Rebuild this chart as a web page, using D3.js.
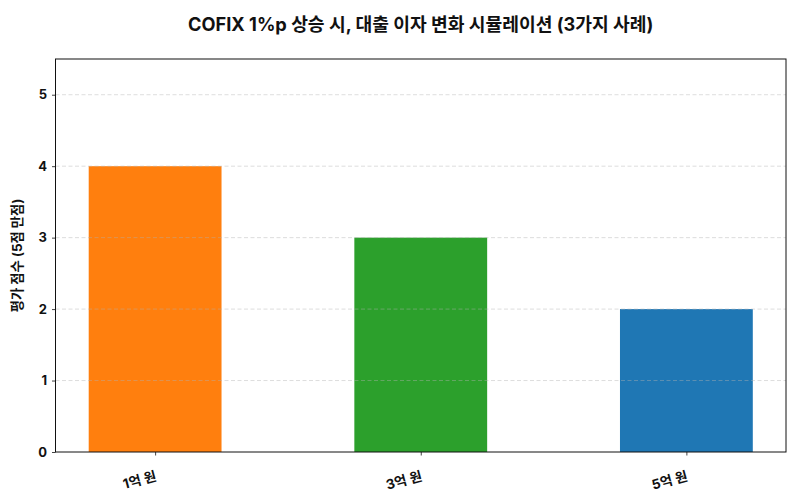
<!DOCTYPE html>
<html>
<head>
<meta charset="utf-8">
<script src="https://cdn.jsdelivr.net/npm/d3@7"></script>
<style>
  body { margin: 0; background: #fff; }
  svg text { font-family: Inter, "Noto Sans CJK KR", sans-serif; fill: #111; }
</style>
</head>
<body>
<div id="chart"></div>
<script>
// Chart values
const categories = ["1억 원", "3억 원", "5억 원"];
const scores = [4, 3, 2];
const barColors = ["#ff7f0e", "#2ca02c", "#1f77b4"];
const yTicks = [0, 1, 2, 3, 4, 5];

const W = 800, H = 500;
const margin = { top: 59, right: 14, bottom: 48, left: 55.5 };
const width = W - margin.left - margin.right;
const height = H - margin.top - margin.bottom;

const svg = d3.select("#chart").append("svg")
    .attr("width", W).attr("height", H);

const g = svg.append("g")
    .attr("transform", `translate(${margin.left},${margin.top})`);

// Scales (category index on a linear axis, like matplotlib)
const x = d3.scaleLinear().domain([-0.375, 2.375]).range([0, width]);
const y = d3.scaleLinear().domain([0, 5.5]).range([height, 0]);
const barW = x(0.5) - x(0);

// Bars
g.selectAll("rect.bar")
    .data(scores)
    .join("rect")
    .attr("class", "bar")
    .attr("x", (d, i) => x(i) - barW / 2)
    .attr("y", d => y(d))
    .attr("width", barW)
    .attr("height", d => y(0) - y(d))
    .attr("fill", (d, i) => barColors[i]);

// Grid lines (drawn over the bars)
g.append("g")
    .selectAll("line")
    .data(yTicks.filter(t => t > 0))
    .join("line")
    .attr("x1", 0).attr("x2", width)
    .attr("y1", d => y(d)).attr("y2", d => y(d))
    .attr("stroke", "#b0b0b0")
    .attr("stroke-opacity", 0.55)
    .attr("stroke-dasharray", "4,2.5")
    .attr("stroke-width", 0.8);

// Axes
const yAxis = g.append("g")
    .call(d3.axisLeft(y).tickValues(yTicks).tickSize(3.5).tickPadding(5).tickFormat(d3.format("d")));
const xAxis = g.append("g")
    .attr("transform", `translate(0,${height})`)
    .call(d3.axisBottom(x).tickValues([0, 1, 2]).tickSize(3.5).tickFormat((d) => categories[d]));

[xAxis, yAxis].forEach(a => {
    a.select(".domain").remove();
    a.selectAll(".tick line").attr("stroke", "#111").attr("stroke-width", 0.8);
    a.selectAll("text").attr("font-size", 13).attr("font-weight", 700);
});

xAxis.selectAll("text")
    .attr("font-size", 13.5)
    .attr("text-anchor", "end")
    .attr("dy", 0)
    .attr("transform", "translate(0,22) rotate(-15)");

// Frame
g.append("rect")
    .attr("width", width).attr("height", height)
    .attr("fill", "none")
    .attr("stroke", "#111")
    .attr("stroke-width", 1);

// Title
svg.append("text")
    .attr("x", margin.left + width / 2)
    .attr("y", 31)
    .attr("text-anchor", "middle")
    .attr("font-size", 18.2)
    .attr("font-weight", 700)
    .text("COFIX 1%p 상승 시, 대출 이자 변화 시뮬레이션 (3가지 사례)");

// Y label
svg.append("text")
    .attr("transform", `translate(22,${margin.top + height / 2}) rotate(-90)`)
    .attr("text-anchor", "middle")
    .attr("font-size", 13.3)
    .attr("font-weight", 700)
    .text("평가 점수 (5점 만점)");
</script>
</body>
</html>
